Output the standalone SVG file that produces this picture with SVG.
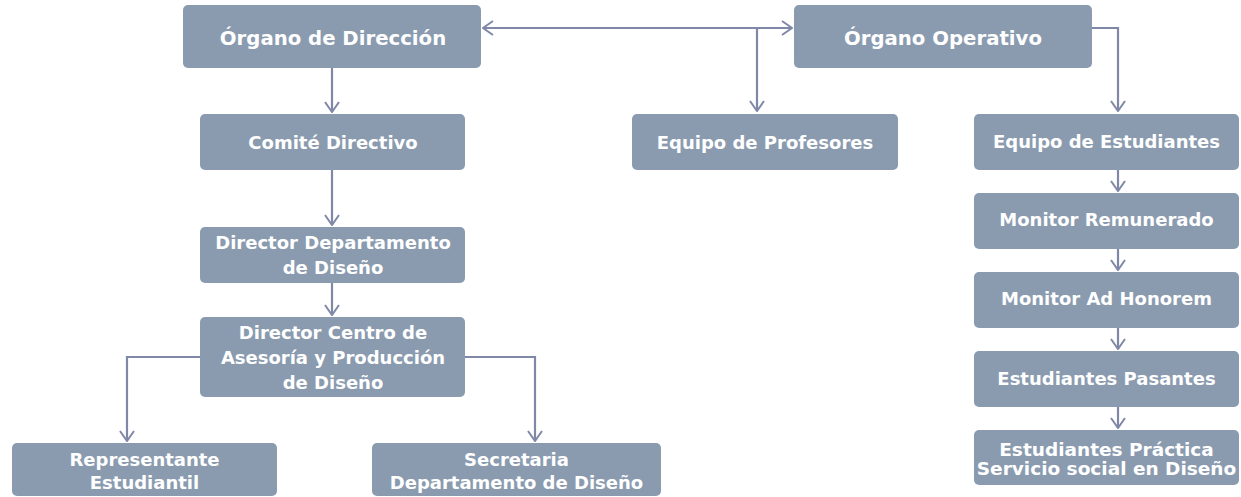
<svg xmlns="http://www.w3.org/2000/svg" width="1241" height="497" viewBox="0 0 1241 497">
<style>
.box{fill:#8A9BB0;}
.t{font-family:"DejaVu Sans",Verdana,sans-serif;font-weight:bold;fill:#ffffff;text-anchor:middle;font-size:18px;}
.big{font-size:19.7px;}
.c{fill:none;stroke:#8088A8;stroke-width:2.2;}
</style>
<defs>
<marker id="ah" viewBox="0 0 12 16" refX="11" refY="8" markerWidth="12" markerHeight="16" markerUnits="userSpaceOnUse" orient="auto-start-reverse">
<path d="M1,1 L11,8 L1,15" fill="none" stroke="#8088A8" stroke-width="2"/>
</marker>
</defs>
<rect width="1241" height="497" fill="#ffffff"/>
<g id="connectors">
<line class="c" x1="483" y1="28" x2="792" y2="28" marker-start="url(#ah)" marker-end="url(#ah)"/>
<polyline class="c" points="757,28 757,111" marker-end="url(#ah)"/>
<polyline class="c" points="1092,28 1118,28 1118,111" marker-end="url(#ah)"/>
<line class="c" x1="332" y1="68" x2="332" y2="112" marker-end="url(#ah)"/>
<line class="c" x1="332" y1="170" x2="332" y2="225" marker-end="url(#ah)"/>
<line class="c" x1="332" y1="283" x2="332" y2="315" marker-end="url(#ah)"/>
<polyline class="c" points="200,357 127,357 127,441" marker-end="url(#ah)"/>
<polyline class="c" points="465,357 535,357 535,441" marker-end="url(#ah)"/>
<line class="c" x1="1118" y1="170" x2="1118" y2="191" marker-end="url(#ah)"/>
<line class="c" x1="1118" y1="249" x2="1118" y2="270" marker-end="url(#ah)"/>
<line class="c" x1="1118" y1="328" x2="1118" y2="349" marker-end="url(#ah)"/>
<line class="c" x1="1118" y1="407" x2="1118" y2="428" marker-end="url(#ah)"/>
</g>
<g id="organo-direccion">
<rect class="box" x="183" y="5" width="298" height="63" rx="5"/>
<text class="t big" x="333" y="45">Órgano de Dirección</text>
</g>
<g id="organo-operativo">
<rect class="box" x="794" y="5" width="298" height="63" rx="5"/>
<text class="t big" x="943" y="45">Órgano Operativo</text>
</g>
<g id="comite-directivo">
<rect class="box" x="200" y="114" width="265" height="56" rx="5"/>
<text class="t" x="333" y="149">Comité Directivo</text>
</g>
<g id="equipo-profesores">
<rect class="box" x="632" y="114" width="266" height="56" rx="5"/>
<text class="t" x="765" y="149">Equipo de Profesores</text>
</g>
<g id="equipo-estudiantes">
<rect class="box" x="974" y="114" width="265" height="56" rx="5"/>
<text class="t" x="1106.5" y="148">Equipo de Estudiantes</text>
</g>
<g id="director-departamento">
<rect class="box" x="200" y="227" width="265" height="56" rx="5"/>
<text class="t" x="333" y="249">Director Departamento</text>
<text class="t" x="333" y="274">de Diseño</text>
</g>
<g id="director-centro">
<rect class="box" x="200" y="317" width="265" height="80" rx="5"/>
<text class="t" x="333" y="339">Director Centro de</text>
<text class="t" x="333" y="364">Asesoría y Producción</text>
<text class="t" x="333" y="389">de Diseño</text>
</g>
<g id="representante">
<rect class="box" x="12" y="443" width="265" height="53" rx="5"/>
<text class="t" x="144.5" y="466">Representante</text>
<text class="t" x="144.5" y="489">Estudiantil</text>
</g>
<g id="secretaria">
<rect class="box" x="372" y="443" width="289" height="53" rx="5"/>
<text class="t" x="516.5" y="466">Secretaria</text>
<text class="t" x="516.5" y="489">Departamento de Diseño</text>
</g>
<g id="monitor-remunerado">
<rect class="box" x="974" y="193" width="265" height="56" rx="5"/>
<text class="t" x="1106.5" y="226">Monitor Remunerado</text>
</g>
<g id="monitor-ad-honorem">
<rect class="box" x="974" y="272" width="265" height="56" rx="5"/>
<text class="t" x="1106.5" y="305">Monitor Ad Honorem</text>
</g>
<g id="estudiantes-pasantes">
<rect class="box" x="974" y="351" width="265" height="56" rx="5"/>
<text class="t" x="1106.5" y="385">Estudiantes Pasantes</text>
</g>
<g id="estudiantes-practica">
<rect class="box" x="974" y="430" width="265" height="55" rx="5"/>
<text class="t" x="1106.5" y="456" style="font-size:18.5px">Estudiantes Práctica</text>
<text class="t" x="1106.5" y="475" style="font-size:18.5px">Servicio social en Diseño</text>
</g>
</svg>
